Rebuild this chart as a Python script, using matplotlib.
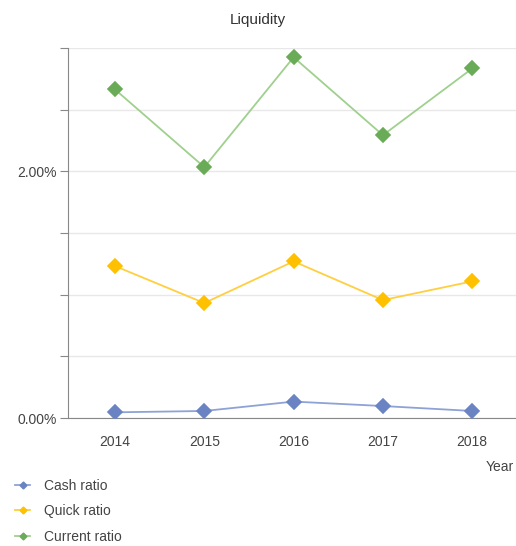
import matplotlib
matplotlib.use('Agg')
import matplotlib.pyplot as plt
import numpy as np

years = ['2014', '2015', '2016', '2017', '2018']
cash_ratio = [0.046, 0.057, 0.133, 0.097, 0.057]
quick_ratio = [1.232, 0.932, 1.270, 0.956, 1.108]
current_ratio = [2.664, 2.034, 2.925, 2.293, 2.834]

series = [
    ('Cash ratio', cash_ratio, '#6a84c3', '#8ea2d8'),
    ('Quick ratio', quick_ratio, '#ffc000', '#ffcf40'),
    ('Current ratio', current_ratio, '#6aab58', '#9fd08e'),
]

plt.rcParams['font.family'] = ['Liberation Sans', 'DejaVu Sans']

fig = plt.figure(figsize=(5.16, 5.46), dpi=100)
ax = fig.add_axes([68/516, 1 - 418/546, 448/516, 370/546])

x = np.arange(len(years))
handles = []
for name, vals, mcol, lcol in series:
    ax.plot(x, vals, color=lcol, lw=1.3, zorder=2)
    ax.plot(x, vals, ls='none', marker='D', ms=6.8, color=mcol,
            markeredgewidth=1.2, markeredgecolor=mcol, zorder=3)
    h, = plt.plot([], [], color=lcol, lw=1.3, marker='D', ms=3.5,
                  markerfacecolor=mcol, markeredgecolor=mcol, label=name)
    handles.append(h)

ax.set_xlim(-0.526, 4.49)
ax.set_ylim(0, 3.0)
ax.set_xticks(x)
ax.set_xticklabels(years)
yt = np.arange(0, 3.01, 0.5)
ax.set_yticks(yt)
ax.set_yticklabels(['%.2f%%' % v if v in (0, 2.0) else '' for v in yt])
ax.grid(axis='y', color='#e8e8e8', lw=1)
ax.set_axisbelow(True)
for s in ['top', 'right']:
    ax.spines[s].set_visible(False)
for s in ['left', 'bottom']:
    ax.spines[s].set_color('#888888')
ax.tick_params(axis='y', length=6, color='#888888', labelsize=10, labelcolor='#444444', pad=2)
ax.tick_params(axis='x', length=0, labelsize=10, labelcolor='#444444', pad=12)

fig.text(258/516, 1 - 20/546, 'Liquidity', ha='center', va='center', fontsize=11, color='#333333')
fig.text(514/516, 1 - 467/546, 'Year', ha='right', va='center', fontsize=10, color='#444444')

fig.legend(handles=handles, loc='upper left', bbox_to_anchor=(0.005, 1 - 466/546),
           frameon=False, fontsize=10, handlelength=1.1, handletextpad=1.0,
           labelspacing=0.85, labelcolor='#444444')

fig.savefig('out.png', dpi=100)
